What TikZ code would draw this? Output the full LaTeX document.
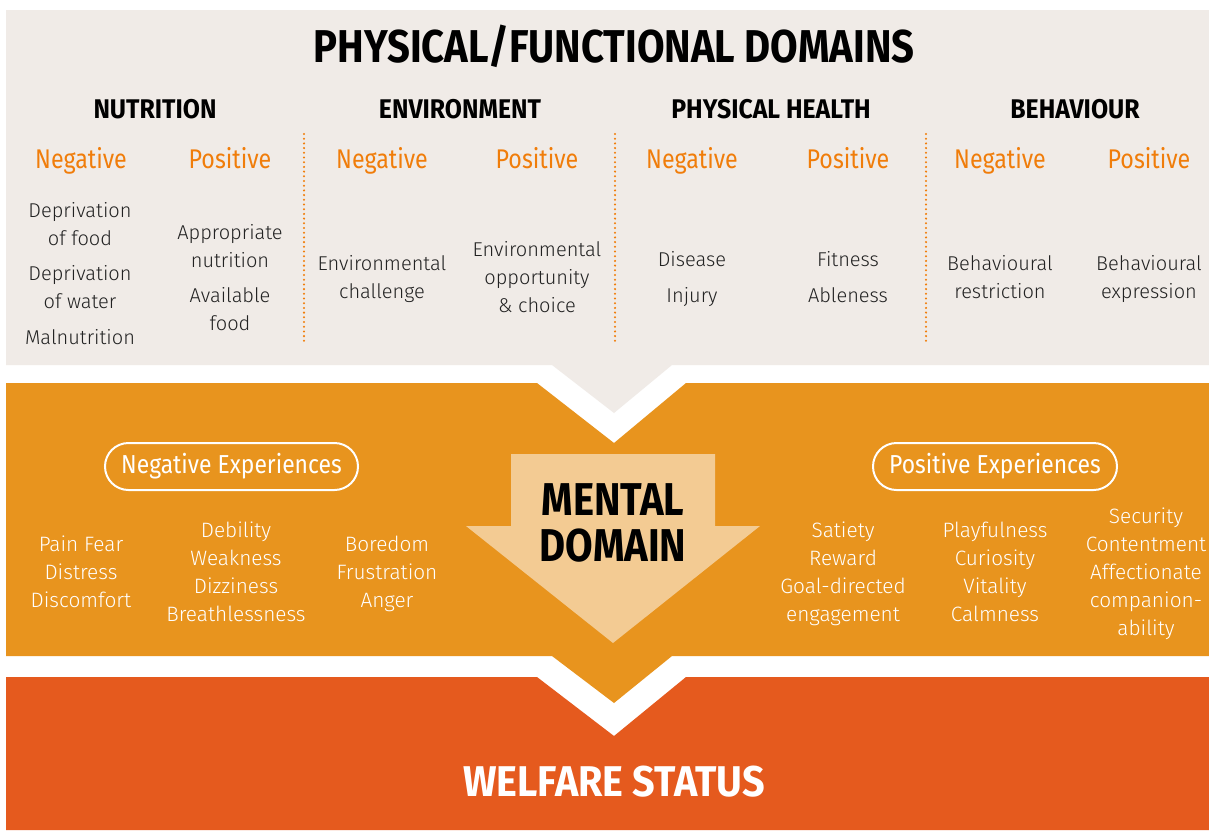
\documentclass[tikz,border=0pt]{standalone}
\usepackage{fontspec}
\setmainfont{Fira Sans}
\newfontfamily\lightf{Fira Sans Light}
\newfontfamily\regf{Fira Sans}[FakeStretch=0.86]
\newfontfamily\pillf{Fira Sans}[FakeStretch=0.88]
\newfontfamily\boldf{Fira Sans Bold}[FakeStretch=0.87]
\newfontfamily\boldw{Fira Sans Bold}[FakeStretch=0.92]
\definecolor{greyp}{HTML}{F0EBE7}
\definecolor{orp}{HTML}{E8941E}
\definecolor{redp}{HTML}{E55A1E}
\definecolor{peach}{HTML}{F3CB93}
\definecolor{ortext}{HTML}{F07D0A}
\definecolor{bodyc}{HTML}{222222}
\newcommand{\mylines}[1]{\begin{tabular}[t]{@{}c@{}}#1\end{tabular}}
\tikzset{
  titletxt/.style={anchor=base, inner sep=0pt, font=\boldf\fontsize{46}{50}\selectfont, text=black},
  headtxt/.style={anchor=base, inner sep=0pt, font=\boldw\fontsize{27}{30}\selectfont, text=black},
  npos/.style={anchor=base, inner sep=0pt, font=\regf\fontsize{27}{30}\selectfont, text=ortext},
  bodytxt/.style={anchor=base, inner sep=0pt, font=\lightf\fontsize{20}{28}\selectfont, text=bodyc},
  whitetxt/.style={anchor=base, inner sep=0pt, font=\lightf\fontsize{20.8}{28}\selectfont, text=white},
  pill/.style={draw=white, line width=2pt, rounded corners=23.5pt, minimum height=47pt, inner sep=0pt, text=white, font=\pillf\fontsize{26}{30}\selectfont},
  bigtxt/.style={anchor=base, inner sep=0pt, font=\boldf\fontsize{46}{45}\selectfont},
  dotsep/.style={draw=ortext, line width=2.3pt, dash pattern=on 0pt off 4.7pt, line cap=round}
}
\begin{document}
\begin{tikzpicture}[x=1pt,y=-1pt]
\useasboundingbox (0,0) rectangle (1209,830);
\fill[white] (0,0) rectangle (1209,830);
% panels
\fill[greyp] (6,10) -- (1209,10) -- (1209,365) -- (672,365) -- (614,413) -- (552,365) -- (6,365) -- cycle;
\fill[orp] (6,383) -- (537,383) -- (614,443) -- (686,383) -- (1209,383) -- (1209,656) -- (672,656) -- (614,703) -- (552,656) -- (6,656) -- cycle;
\fill[redp] (6,677) -- (537,677) -- (614,736) -- (686,677) -- (1209,677) -- (1209,830) -- (6,830) -- cycle;
% mental arrow
\fill[peach] (511,454) -- (715,454) -- (715,526) -- (760,526) -- (613,643) -- (466,526) -- (511,526) -- cycle;
% separators
\draw[dotsep] (304,134) -- (304,344);
\draw[dotsep] (615,134) -- (615,344);
\draw[dotsep] (926,134) -- (926,344);
% title and headers
\node[titletxt] (title) at (614,62) {PHYSICAL/FUNCTIONAL DOMAINS};
\node[headtxt] (hnut) at (155,118) {NUTRITION};
\node[headtxt] (henv) at (460,118) {ENVIRONMENT};
\node[headtxt] (hph) at (771,118) {PHYSICAL HEALTH};
\node[headtxt] (hbeh) at (1075,118) {BEHAVIOUR};
% negative/positive
\node[npos] (n1) at (81,168) {Negative};
\node[npos] (p1) at (230,168) {Positive};
\node[npos] (n2) at (382,168) {Negative};
\node[npos] (p2) at (537,168) {Positive};
\node[npos] (n3) at (692,168) {Negative};
\node[npos] (p3) at (848,168) {Positive};
\node[npos] (n4) at (1000,168) {Negative};
\node[npos] (p4) at (1149,168) {Positive};
% body
\node[bodytxt] (dfood) at (80,217) {\mylines{Deprivation\\of food}};
\node[bodytxt] (dwater) at (80,280) {\mylines{Deprivation\\of water}};
\node[bodytxt] (maln) at (80,344) {Malnutrition};
\node[bodytxt] (appn) at (230,239) {\mylines{Appropriate\\nutrition}};
\node[bodytxt] (avf) at (230,302) {\mylines{Available\\food}};
\node[bodytxt] (envc) at (382,270) {\mylines{Environmental\\challenge}};
\node[bodytxt] (envo) at (537,256) {\mylines{Environmental\\opportunity\\\& choice}};
\node[bodytxt] (dis) at (692,266) {Disease};
\node[bodytxt] (inj) at (692,302) {Injury};
\node[bodytxt] (fit) at (848,266) {Fitness};
\node[bodytxt] (abl) at (848,302) {Ableness};
\node[bodytxt] (bres) at (1000,270) {\mylines{Behavioural\\restriction}};
\node[bodytxt] (bexp) at (1149,270) {\mylines{Behavioural\\expression}};
% experiences
\node[pill, minimum width=253pt] (negexp) at (231.5,466.5) {Negative Experiences};
\node[pill, minimum width=244pt] (posexp) at (995,466.5) {Positive Experiences};
\node[whitetxt] (e1) at (81,551) {\mylines{Pain Fear\\Distress\\Discomfort}};
\node[whitetxt] (e2) at (236,537) {\mylines{Debility\\Weakness\\Dizziness\\Breathlessness}};
\node[whitetxt] (e3) at (387,551) {\mylines{Boredom\\Frustration\\Anger}};
\node[whitetxt] (e4) at (843,537) {\mylines{Satiety\\Reward\\Goal-directed\\engagement}};
\node[whitetxt] (e5) at (995,537) {\mylines{Playfulness\\Curiosity\\Vitality\\Calmness}};
\node[whitetxt] (e6) at (1146,523) {\mylines{Security\\Contentment\\Affectionate\\companion-\\ability}};
% mental domain
\node[bigtxt, text=black] (mental) at (613,515) {\mylines{MENTAL\\DOMAIN}};
% welfare
\node[bigtxt, text=white, font=\boldw\fontsize{43}{45}\selectfont] (welfare) at (614,796) {WELFARE STATUS};
\end{tikzpicture}
\end{document}
